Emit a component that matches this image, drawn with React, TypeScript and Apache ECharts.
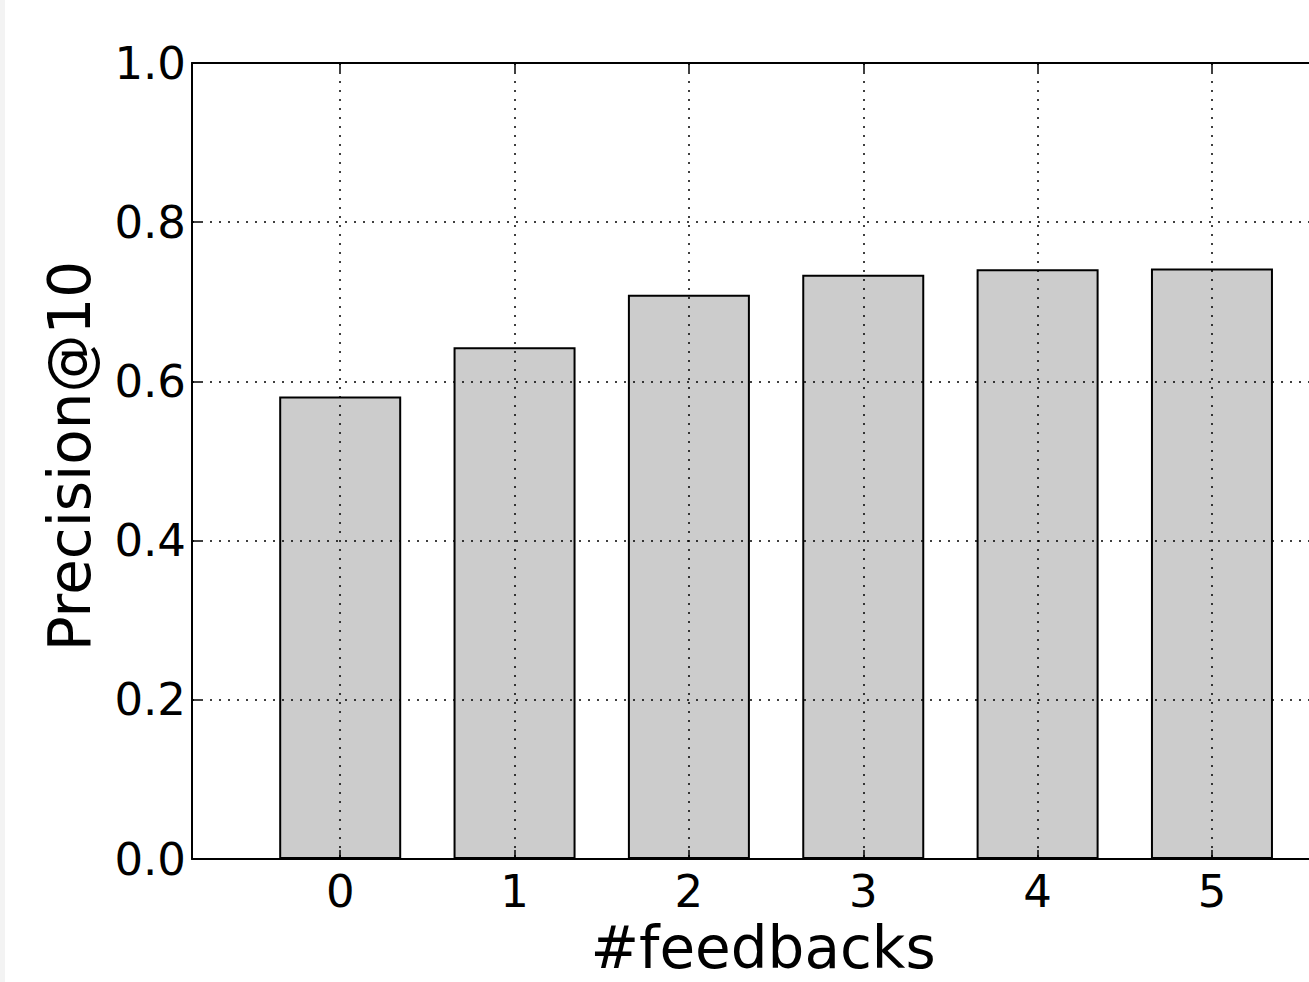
import React, { useEffect, useRef } from "react";
import * as echarts from "echarts";

const categories = [0, 1, 2, 3, 4, 5];
const precisionValues = [0.581, 0.643, 0.709, 0.734, 0.741, 0.742];
const yTicks = [0, 0.2, 0.4, 0.6, 0.8, 1.0];

const FONT = "DejaVu Sans";

export default function App() {
  const ref = useRef<HTMLDivElement>(null);

  useEffect(() => {
    if (!ref.current) return;
    const chart = echarts.init(ref.current, undefined, { renderer: "svg" });
    const dotted = { color: "#000", width: 1.5, type: [2, 7] as any };
    const option: any = {
      animation: false,
      backgroundColor: "#fff",
      grid: { left: 192, top: 63, bottom: 117, width: 1142, containLabel: false },
      graphic: [
        {
          type: "rect",
          left: 0,
          top: 0,
          shape: { width: 5, height: 982 },
          style: { fill: "#f3f3f3" },
          silent: true,
        },
      ],
      xAxis: [
        {
          type: "value",
          min: -0.85,
          max: 5.7,
          z: 5,
          position: "bottom",
          name: "#feedbacks",
          nameLocation: "middle",
          nameGap: 55,
          nameTextStyle: { fontFamily: FONT, fontSize: 58, color: "#000" },
          axisLine: { show: true, onZero: false, lineStyle: { color: "#000", width: 2 } },
          axisTick: { show: true, inside: true, length: 9, customValues: categories, lineStyle: { color: "#000", width: 1.5 } },
          axisLabel: {
            show: true,
            customValues: categories,
            margin: 10,
            fontFamily: FONT,
            fontSize: 45,
            color: "#000",
            formatter: (v: number) => String(v),
          },
          splitLine: { show: true, lineStyle: dotted },
        },
        {
          type: "value",
          min: -0.85,
          max: 5.7,
          z: 5,
          position: "top",
          axisLine: { show: true, onZero: false, lineStyle: { color: "#000", width: 2 } },
          axisTick: { show: true, inside: true, length: 9, customValues: categories, lineStyle: { color: "#000", width: 1.5 } },
          axisLabel: { show: false },
          splitLine: { show: false },
        },
      ],
      yAxis: {
        type: "value",
        min: 0,
        max: 1,
        interval: 0.2,
        z: 5,
        name: "Precision@10",
        nameLocation: "middle",
        nameGap: 93,
        nameTextStyle: { fontFamily: FONT, fontSize: 58, color: "#000", padding: [0, 0, 0, 10] },
        axisLine: { show: true, onZero: false, lineStyle: { color: "#000", width: 2 } },
        axisTick: { show: true, inside: true, length: 9, lineStyle: { color: "#000", width: 1.5 } },
        axisLabel: {
          margin: 6,
          fontFamily: FONT,
          fontSize: 45,
          color: "#000",
          customValues: yTicks,
          formatter: (v: number) => v.toFixed(1),
        },
        splitLine: { show: true, lineStyle: dotted },
      },
      series: [
        {
          type: "bar",
          xAxisIndex: 0,
          barWidth: 122,
          z: 2,
          data: categories.map((c, i) => [c, precisionValues[i]]),
          itemStyle: { color: "#cccccc", borderColor: "#000", borderWidth: 2 },
        },
      ],
    };
    chart.setOption(option);
    return () => chart.dispose();
  }, []);

  return (
    <div style={{ position: "fixed", left: 0, top: 0, width: 1309, height: 982, overflow: "hidden", background: "#fff" }}>
      <div ref={ref} style={{ width: 1345, height: 982 }} />
    </div>
  );
}
